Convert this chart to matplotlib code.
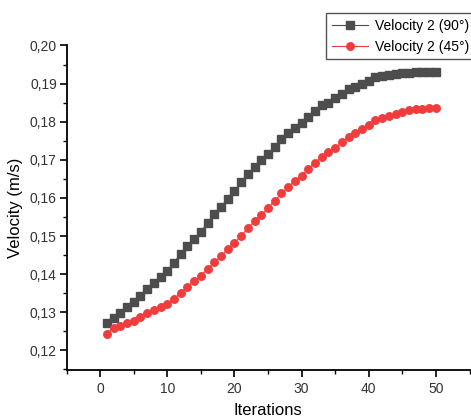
import matplotlib
matplotlib.use("Agg")
import matplotlib.pyplot as plt
from matplotlib.ticker import MultipleLocator, FuncFormatter

plt.rcParams["font.family"] = ["Liberation Sans", "DejaVu Sans"]

iterations = list(range(1, 51))

velocity_90 = [
    0.1272, 0.1286, 0.1299, 0.1313, 0.1326, 0.1343, 0.1360, 0.1377, 0.1392, 0.1408,
    0.1430, 0.1454, 0.1473, 0.1493, 0.1511, 0.1534, 0.1558, 0.1577, 0.1598, 0.1618,
    0.1642, 0.1663, 0.1682, 0.1699, 0.1715, 0.1733, 0.1754, 0.1770, 0.1783, 0.1796,
    0.1812, 0.1828, 0.1843, 0.1850, 0.1863, 0.1872, 0.1885, 0.1892, 0.1899, 0.1908,
    0.1918, 0.1921, 0.1923, 0.1925, 0.1927, 0.1929, 0.1930, 0.1931, 0.1931, 0.1931,
]

velocity_45 = [
    0.1244, 0.1260, 0.1265, 0.1272, 0.1278, 0.1287, 0.1297, 0.1305, 0.1314, 0.1323,
    0.1336, 0.1351, 0.1367, 0.1382, 0.1396, 0.1414, 0.1431, 0.1448, 0.1465, 0.1481,
    0.1501, 0.1520, 0.1539, 0.1556, 0.1574, 0.1593, 0.1612, 0.1629, 0.1645, 0.1658,
    0.1677, 0.1692, 0.1708, 0.1720, 0.1731, 0.1746, 0.1759, 0.1770, 0.1780, 0.1791,
    0.1804, 0.1811, 0.1816, 0.1821, 0.1826, 0.1830, 0.1833, 0.1834, 0.1835, 0.1835,
]

labels = ["Velocity 2 (90°)", "Velocity 2 (45°)"]

fig = plt.figure(figsize=(4.71, 4.19), dpi=100)
ax = fig.add_axes([66.5 / 471, 1 - 369.5 / 419, (469.5 - 66.5) / 471, (369.5 - 45.5) / 419])

ax.plot(iterations, velocity_90, color="#4d4d4d", lw=0.8, marker="s", ms=5.5,
        mec="#4d4d4d", label=labels[0])
ax.plot(iterations, velocity_45, color="#f03c3c", lw=0.8, marker="o", ms=5.4,
        mec="#f03c3c", label=labels[1])

ax.set_xlim(-5, 55)
ax.set_ylim(0.115, 0.20)
ax.xaxis.set_major_locator(MultipleLocator(10))
ax.xaxis.set_minor_locator(MultipleLocator(5))
ax.yaxis.set_major_locator(MultipleLocator(0.01))
ax.yaxis.set_minor_locator(MultipleLocator(0.005))
ax.yaxis.set_major_formatter(FuncFormatter(lambda v, p: f"{v:.2f}".replace(".", ",")))

for side in ("top", "right"):
    ax.spines[side].set_visible(False)
for side in ("left", "bottom"):
    ax.spines[side].set_linewidth(1.3)

ax.tick_params(which="major", direction="out", length=5, width=1.2,
               labelsize=10, labelcolor="#333333", pad=2)
ax.tick_params(which="minor", direction="out", length=3, width=1.0)
ax.tick_params(axis="x", which="major", pad=4)

ax.set_xlabel("Iterations", fontsize=12, labelpad=5)
ax.set_ylabel("Velocity (m/s)", fontsize=12, labelpad=5)

fig.legend(loc="upper left", bbox_to_anchor=(326 / 471, 1 - 13 / 419),
           fontsize=10, frameon=True, fancybox=False, edgecolor="#555555",
           framealpha=1, borderaxespad=0, handlelength=2.6, handletextpad=0.5,
           borderpad=0.4, labelspacing=0.5)

fig.savefig("out.png", dpi=100)
